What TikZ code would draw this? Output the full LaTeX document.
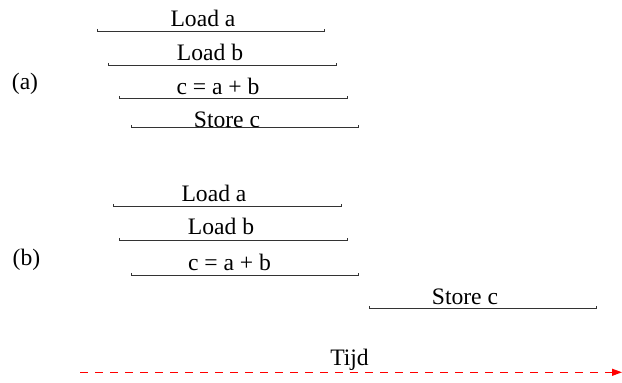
\documentclass[tikz,border=0pt]{standalone}
\usepackage{fontspec}
\setmainfont{Liberation Serif}
\usetikzlibrary{arrows.meta}

\begin{document}
\begin{tikzpicture}[x=.5pt, y=-.5pt,
  bar/.style={draw=black!80, line width=.5pt},
  lbl/.style={inner sep=0pt, font=\fontsize{11.8}{14}\selectfont},
  tijd/.style={red, line width=.6pt, dash pattern=on 4pt off 3.5pt, -{Triangle[length=5pt, width=3.5pt]}}]
\useasboundingbox (0, 0) rectangle (622, 383);
%\draw [help lines] (0, 0) grid [step=50] (622, 383);
\foreach \n/\xs/\xe/\yl/\xt/\yt/\t in {
  aLa/97/324/32/203/26.7/Load a,
  aLb/108/336/66/210/61/Load b,
  aC/119/347/99/218/95/{c = a + b},
  aSt/131/358/128/227/127.7/Store c,
  bLa/113/341/207/214/201.7/Load a,
  bLb/119/347/241/221/235/Load b,
  bC/131/358/276/229.5/270.7/{c = a + b},
  bSt/369/596/309/465/304.7/Store c}
{
  \coordinate (\n s) at (\xs, \yl);
  \coordinate (\n e) at (\xe, \yl);
  \node at (\xt, \yt) [name=\n, anchor=base, lbl] {\t};
  \draw [bar] (\n s) ++(0, -3) -- (\n s) -- (\n e) -- ++(0, -3);
}
\node at (25, 84) [name=parta, lbl] {(a)};
\node at (26.5, 260) [name=partb, lbl] {(b)};
\coordinate (T1) at (80, 372.3);
\coordinate (T2) at (622, 372.3);
\node at (349.5, 366) [name=time, anchor=base, lbl] {Tijd};
\draw [tijd] (T1) -- (T2);
\end{tikzpicture}
\end{document}
